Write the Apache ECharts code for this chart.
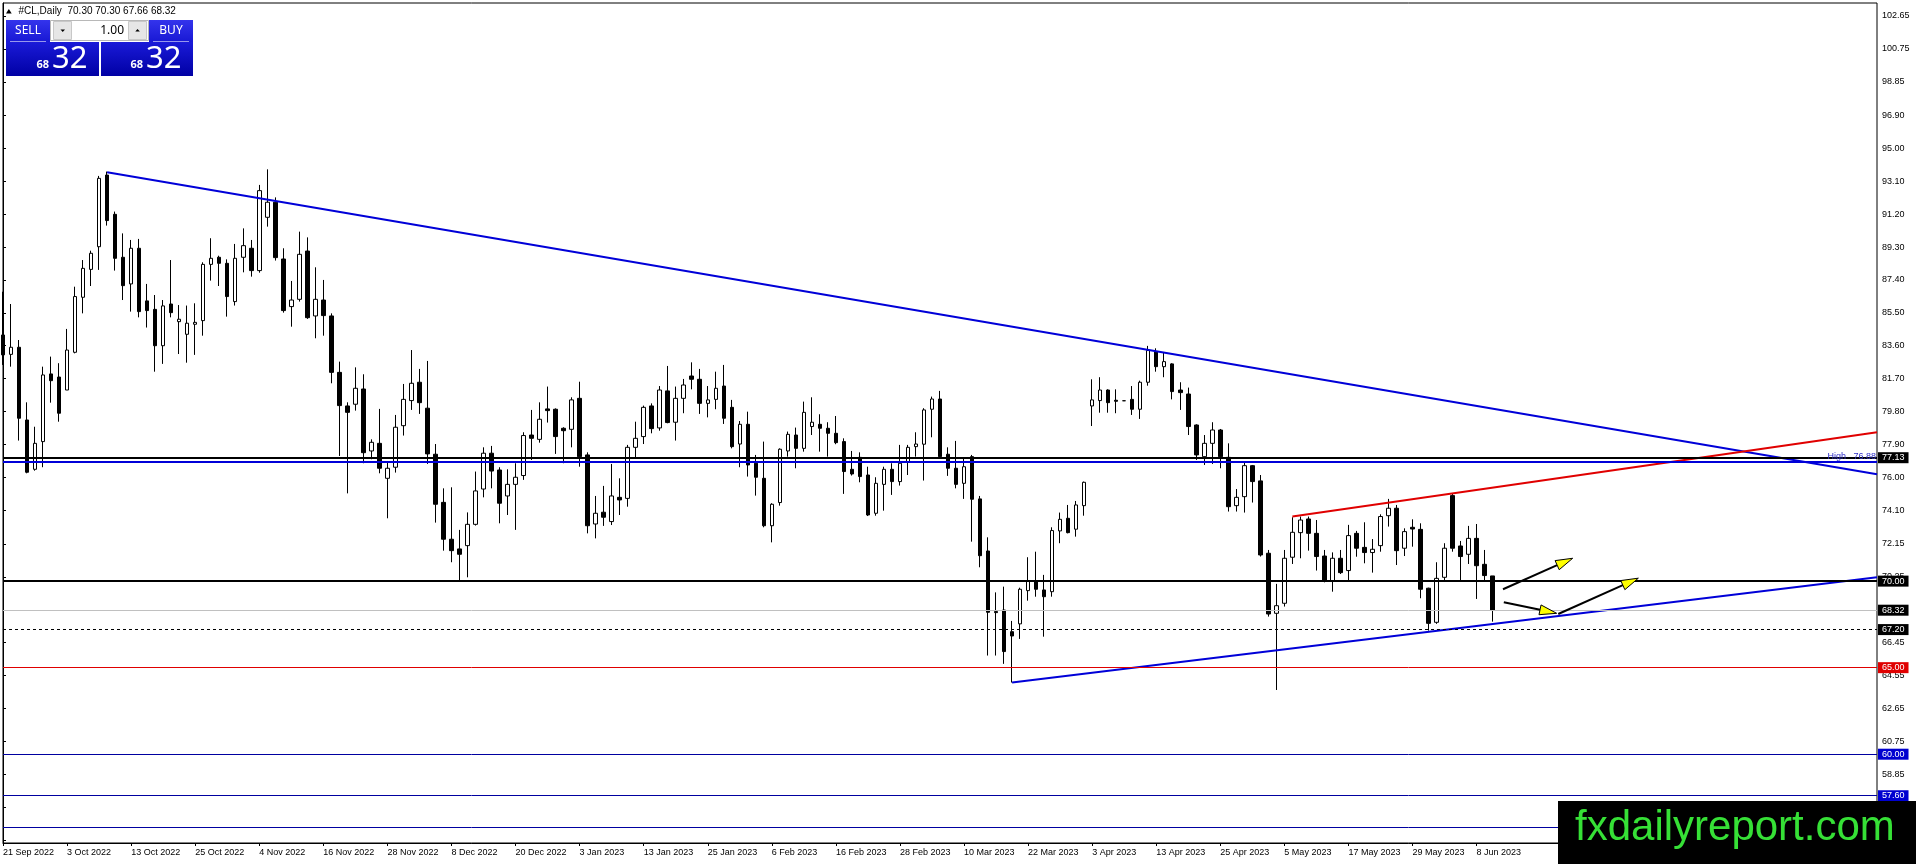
<!DOCTYPE html>
<html>
<head>
<meta charset="utf-8">
<title>#CL,Daily</title>
<script src="https://cdn.jsdelivr.net/npm/echarts@6/dist/echarts.min.js"></script>
<style>
  html, body { margin: 0; padding: 0; background: #fff; }
  #main { width: 1916px; height: 864px; }
</style>
</head>
<body>
<div id="main"></div>
<script>
// daily bars, #CL (crude oil CFD), 21 Sep 2022 .. 12 Jun 2023
var firstDay = '2022-09-21';
var skipDays = ['2022-12-26', '2023-01-02'];   // no bar on these
var totalSlots = 235;                          // bars + empty space on the right

var opens = [
  84.22, 83.10, 83.51, 79.31, 76.46, 78.06, 81.97, 81.79, 81.04, 83.22,
  86.40, 88.01, 89.32, 93.46, 91.19, 88.71, 87.17, 89.23, 86.19, 85.70,
  83.60, 86.01, 84.99, 84.26, 84.84, 85.05, 88.30, 88.71, 88.36, 86.15,
  88.71, 89.23, 87.94, 91.02, 91.89, 88.61, 85.86, 86.28, 89.07, 85.32,
  86.24, 85.32, 82.06, 80.12, 80.22, 81.10, 77.52, 77.96, 75.94, 76.58,
  78.98, 80.43, 81.49, 79.99, 77.33, 74.55, 72.42, 71.86, 72.05, 73.28,
  75.32, 77.39, 76.42, 74.92, 75.59, 76.10, 78.44, 78.19, 79.95, 79.93,
  78.83, 78.77, 80.56, 77.29, 73.30, 73.98, 73.44, 74.84, 74.78, 77.73,
  78.35, 80.12, 78.85, 80.99, 79.18, 80.56, 81.85, 81.66, 80.27, 80.50,
  81.27, 80.04, 77.92, 79.06, 76.81, 75.94, 73.20, 74.54, 77.52, 78.44,
  77.67, 78.93, 79.06, 78.83, 78.54, 78.06, 76.46, 77.15, 76.13, 73.92,
  75.59, 76.46, 75.75, 76.87, 77.77, 77.91, 79.93, 80.52, 77.33, 76.52,
  75.65, 77.19, 74.75, 71.74, 68.24, 68.33, 67.08, 67.53, 69.45, 69.97,
  69.49, 69.39, 72.90, 73.63, 73.00, 74.36, 80.12, 80.43, 81.04, 80.45,
  80.42, 80.50, 79.93, 81.49, 83.26, 82.39, 82.55, 81.04, 80.81, 79.02,
  77.19, 77.96, 78.73, 77.15, 74.36, 74.88, 76.67, 75.79, 71.61, 68.14,
  68.72, 71.38, 72.80, 73.59, 72.76, 71.45, 70.03, 71.32, 70.61, 72.76,
  71.95, 71.65, 72.05, 73.78, 74.21, 71.90, 73.11, 72.99, 69.59, 67.62,
  70.22, 74.94, 72.03, 71.55, 72.47, 70.97, 70.30
];
var highs = [
  86.72, 86.01, 83.93, 80.33, 78.92, 82.39, 82.97, 82.59, 84.57, 87.01,
  88.55, 89.09, 93.41, 93.66, 91.35, 90.09, 89.71, 89.77, 87.17, 86.53,
  86.24, 88.55, 85.95, 85.92, 86.05, 88.42, 89.81, 88.80, 88.59, 89.48,
  90.38, 89.71, 92.89, 93.79, 92.17, 89.23, 87.34, 90.19, 89.86, 88.13,
  87.40, 85.47, 82.68, 80.33, 82.35, 81.95, 78.19, 79.95, 76.90, 79.60,
  81.39, 83.35, 82.26, 82.72, 77.92, 75.36, 75.42, 72.96, 73.97, 76.33,
  77.73, 77.81, 76.58, 76.46, 76.81, 78.60, 79.89, 80.33, 81.24, 79.98,
  78.89, 80.62, 81.52, 77.44, 74.92, 75.50, 76.77, 75.94, 77.87, 79.21,
  80.14, 80.27, 81.27, 82.43, 81.24, 81.68, 82.64, 82.26, 81.27, 82.10,
  82.49, 80.47, 79.25, 79.79, 77.29, 78.06, 74.50, 77.67, 78.64, 78.87,
  80.37, 80.62, 79.64, 79.18, 79.54, 78.25, 77.52, 77.44, 76.61, 76.00,
  76.61, 76.81, 77.87, 77.87, 78.60, 79.99, 80.66, 80.99, 77.73, 78.10,
  77.13, 77.29, 74.92, 72.53, 69.35, 69.68, 67.70, 69.62, 71.38, 71.70,
  70.36, 73.11, 73.96, 74.40, 74.63, 75.75, 81.66, 81.78, 81.08, 81.08,
  80.42, 81.27, 81.58, 83.59, 83.45, 83.22, 82.59, 81.49, 81.18, 79.06,
  78.44, 79.18, 78.79, 77.96, 75.32, 76.90, 76.71, 76.13, 71.80, 69.84,
  71.80, 73.69, 73.73, 73.73, 73.53, 71.80, 71.66, 71.80, 73.25, 72.90,
  73.40, 72.43, 73.86, 74.75, 74.40, 73.05, 73.57, 73.34, 69.62, 71.09,
  72.19, 75.04, 72.32, 73.19, 73.30, 71.80, 70.30
];
var lows = [
  82.49, 82.39, 78.12, 76.23, 76.38, 76.58, 80.31, 79.21, 81.04, 83.16,
  85.47, 87.05, 87.98, 90.54, 87.94, 86.24, 85.57, 85.24, 84.65, 82.10,
  82.55, 85.24, 83.12, 82.62, 83.07, 84.18, 87.36, 87.05, 85.28, 85.92,
  87.84, 87.59, 87.82, 90.48, 88.52, 85.51, 84.70, 86.15, 85.15, 84.03,
  84.18, 81.43, 77.23, 75.07, 79.85, 76.81, 77.04, 76.23, 73.63, 76.27,
  78.41, 79.89, 79.66, 76.77, 73.38, 71.76, 71.09, 70.05, 70.22, 73.21,
  74.84, 75.36, 73.34, 73.82, 72.96, 75.85, 77.00, 78.00, 79.16, 77.35,
  76.81, 77.73, 76.61, 72.76, 72.47, 73.19, 73.24, 73.82, 74.30, 77.10,
  77.92, 78.54, 78.69, 79.12, 78.12, 79.70, 81.08, 79.66, 79.46, 79.93,
  79.08, 77.67, 76.58, 76.04, 74.94, 73.11, 72.24, 74.36, 77.19, 76.52,
  77.48, 78.44, 77.48, 77.19, 77.91, 75.04, 76.10, 75.71, 73.76, 73.78,
  74.07, 74.98, 75.52, 76.13, 77.19, 75.81, 78.31, 77.10, 76.08, 75.36,
  74.75, 72.28, 70.80, 65.70, 65.70, 65.22, 64.14, 66.66, 68.87, 69.10,
  66.79, 69.10, 72.19, 72.76, 72.57, 73.78, 78.96, 79.73, 79.73, 79.70,
  80.42, 79.60, 79.37, 81.29, 82.10, 81.78, 80.50, 79.89, 78.44, 77.00,
  76.71, 76.77, 76.52, 74.02, 74.02, 73.96, 74.54, 71.42, 67.95, 63.71,
  68.53, 70.99, 71.32, 71.76, 70.61, 69.93, 69.39, 70.41, 70.03, 71.41,
  71.03, 70.49, 71.70, 73.15, 70.93, 71.45, 71.99, 69.01, 67.14, 67.53,
  70.03, 71.70, 70.03, 70.99, 68.97, 70.03, 67.66
];
var closes = [
  83.07, 83.51, 79.41, 76.29, 77.96, 81.91, 81.58, 79.70, 83.35, 86.44,
  88.07, 88.94, 93.27, 90.83, 88.65, 87.07, 89.23, 85.57, 85.63, 83.60,
  85.90, 85.51, 85.13, 84.90, 84.95, 88.30, 88.65, 88.36, 86.44, 88.65,
  89.38, 87.94, 92.56, 91.89, 88.69, 85.63, 86.24, 88.88, 85.22, 86.28,
  85.34, 82.06, 80.14, 79.75, 81.14, 77.42, 78.02, 76.52, 76.52, 78.89,
  80.50, 81.43, 80.31, 77.35, 74.44, 72.42, 71.76, 71.55, 73.28, 75.21,
  77.39, 76.36, 74.50, 75.59, 76.00, 78.41, 78.25, 79.35, 79.85, 78.35,
  78.69, 80.47, 77.19, 73.20, 73.92, 73.69, 74.92, 74.69, 77.73, 78.25,
  80.04, 78.81, 81.04, 79.16, 80.56, 81.33, 81.66, 80.27, 80.47, 81.14,
  79.41, 77.77, 79.06, 76.71, 76.00, 73.20, 74.44, 77.62, 78.48, 77.67,
  79.75, 79.18, 78.83, 78.54, 78.00, 76.33, 76.19, 76.04, 73.82, 75.65,
  76.46, 75.75, 76.81, 77.73, 77.92, 79.89, 80.52, 77.19, 76.52, 75.59,
  76.61, 74.73, 71.47, 68.20, 68.18, 65.93, 66.83, 69.53, 70.01, 69.53,
  69.10, 72.92, 73.57, 72.80, 74.40, 75.71, 80.47, 81.04, 80.31, 80.39,
  80.42, 79.93, 81.49, 83.32, 82.39, 82.68, 80.95, 80.89, 78.93, 77.29,
  77.96, 78.73, 77.19, 74.30, 74.84, 76.67, 75.75, 71.51, 68.10, 68.58,
  71.32, 72.82, 73.53, 72.76, 71.42, 70.03, 71.32, 70.49, 72.63, 71.90,
  71.65, 71.84, 73.73, 74.21, 71.76, 72.86, 73.01, 69.53, 67.56, 70.16,
  71.90, 71.90, 71.42, 72.47, 70.89, 70.32, 68.32
];

// right-hand price scale labels
var priceTicks = [102.65, 100.75, 98.85, 96.90, 95.00, 93.10, 91.20, 89.30, 87.40,
  85.50, 83.60, 81.70, 79.80, 77.90, 76.00, 74.10, 72.15, 70.25, 68.30, 66.45,
  64.55, 62.65, 60.75, 58.85, 56.95, 55.05];

// horizontal levels
var level7713 = 77.13;
var levelHigh = 76.88;
var level70 = 70.00;
var levelBid = 68.32;
var level6720 = 67.20;
var level65 = 65.00;
var blueLevels = [60.00, 57.60, 55.78];

// trendlines: [bar index, price]
var downTrend = [[13, 93.62], [234, 76.17]];
var redTrend = [[161, 73.73], [234, 78.60]];
var supportTrend = [[126, 64.14], [234, 70.22]];

// arrows: [fromBar, fromPrice, toBar, toPrice]
var arrows = [
  [187.3, 69.53, 196.0, 71.32],
  [187.4, 68.78, 194.0, 68.14],
  [194.2, 68.10, 204.2, 70.17]
];

var FONT = 'Liberation Sans';
var MONTHS = ['Jan', 'Feb', 'Mar', 'Apr', 'May', 'Jun', 'Jul', 'Aug', 'Sep', 'Oct', 'Nov', 'Dec'];

// trading days (weekdays minus the skipped holidays)
var categories = [];
var day = new Date(firstDay + 'T00:00:00Z');
while (categories.length < opens.length) {
  var wd = day.getUTCDay();
  var iso = day.toISOString().slice(0, 10);
  if (wd !== 0 && wd !== 6 && skipDays.indexOf(iso) < 0) {
    categories.push(day.getUTCDate() + ' ' + MONTHS[day.getUTCMonth()] + ' ' + day.getUTCFullYear());
  }
  day = new Date(day.getTime() + 86400000);
}
var lastBar = categories.length - 1;
for (var k = categories.length; k < totalSlots; k++) categories.push('_' + k);

var candles = [];
for (var i = 0; i < opens.length; i++) {
  candles.push([opens[i], closes[i], lows[i], highs[i]]);
}

var showDate = function (idx) { return idx % 8 === 0 && idx <= lastBar; };

function boxLabel(bg) {
  return {
    show: true, position: 'end', distance: 1,
    formatter: function (p) { return p.value.toFixed(2); },
    color: '#fff', backgroundColor: bg, padding: [2, 4, 0, 4],
    fontSize: 9, fontFamily: FONT, lineHeight: 9
  };
}

var markLines = [
  { yAxis: level7713, lineStyle: { color: '#000', width: 2, type: 'solid' }, label: boxLabel('#000') },
  { yAxis: levelHigh, lineStyle: { color: '#0000d8', width: 2, type: 'solid' },
    label: { show: true, position: 'insideEndTop', distance: 1, formatter: 'High   76.88',
      color: '#3030c8', fontSize: 9, fontFamily: FONT } },
  { yAxis: level70, lineStyle: { color: '#000', width: 2, type: 'solid' }, label: boxLabel('#000') },
  { yAxis: levelBid, lineStyle: { color: '#c0c0c0', width: 1, type: 'solid' }, label: boxLabel('#000') },
  { yAxis: level6720, lineStyle: { color: '#000', width: 1, type: [3, 3] }, label: boxLabel('#000') },
  { yAxis: level65, lineStyle: { color: '#e00000', width: 1, type: 'solid' }, label: boxLabel('#e00000') }
];
blueLevels.forEach(function (v, n) {
  markLines.push({ yAxis: v, lineStyle: { color: '#0000a0', width: 1, type: 'solid' },
    label: n < 2 ? boxLabel('#0000d0') : { show: false } });
});

function trendSeries(pts, color) {
  return {
    type: 'line', xAxisIndex: 1, yAxisIndex: 0, data: pts,
    symbol: 'none', silent: true, z: 4,
    lineStyle: { color: color, width: 2 }
  };
}

var chart = echarts.init(document.getElementById('main'), null, { renderer: 'canvas' });

var option = {
  animation: false,
  backgroundColor: '#fff',
  textStyle: { fontFamily: FONT },
  grid: {
    left: 3, right: 39, top: 3, bottom: 21,
    show: true, borderColor: '#000', borderWidth: 1, backgroundColor: '#fff',
    containLabel: false, outerBoundsMode: 'none'
  },
  xAxis: [{
    type: 'category', data: categories, boundaryGap: false,
    axisLine: { show: true, lineStyle: { color: '#000', width: 1 } },
    axisTick: { show: true, interval: showDate, length: 3, lineStyle: { color: '#000' } },
    axisLabel: {
      interval: showDate, align: 'left', margin: 5, color: '#000',
      fontSize: 9, fontFamily: FONT
    },
    splitLine: { show: false }
  }, {
    type: 'value', min: 0, max: totalSlots - 1, show: false
  }],
  yAxis: {
    type: 'value', position: 'right', min: 54.87, max: 103.40, scale: true,
    axisLine: { show: true, lineStyle: { color: '#000', width: 1 } },
    axisTick: { show: true, length: 3, customValues: priceTicks, lineStyle: { color: '#000' } },
    axisLabel: {
      customValues: priceTicks, margin: 5, color: '#000', fontSize: 9, fontFamily: FONT,
      formatter: function (v) { return v.toFixed(2); }
    },
    splitLine: { show: false }
  },
  series: [{
    type: 'candlestick', data: candles, barWidth: 4, silent: true, z: 3,
    itemStyle: {
      color: '#fff', color0: '#000',
      borderColor: '#000', borderColor0: '#000', borderColorDoji: '#000', borderWidth: 1
    },
    markLine: {
      silent: true, symbol: ['none', 'none'], animation: false, z: 5,
      data: markLines
    }
  },
  trendSeries(downTrend, '#0000d8'),
  trendSeries(redTrend, '#e00000'),
  trendSeries(supportTrend, '#0000d8'),
  {
    type: 'custom', xAxisIndex: 1, yAxisIndex: 0, data: arrows, silent: true, z: 6,
    encode: { x: [0, 2], y: [1, 3] },
    renderItem: function (params, api) {
      var p1 = api.coord([api.value(0), api.value(1)]);
      var p2 = api.coord([api.value(2), api.value(3)]);
      var dx = p2[0] - p1[0], dy = p2[1] - p1[1];
      var len = Math.sqrt(dx * dx + dy * dy);
      var ux = dx / len, uy = dy / len;
      var headLen = 17, headW = 5;
      var bx = p2[0] - ux * headLen, by = p2[1] - uy * headLen;
      return {
        type: 'group',
        children: [{
          type: 'line',
          shape: { x1: p1[0], y1: p1[1], x2: bx, y2: by },
          style: { stroke: '#000', lineWidth: 2 }
        }, {
          type: 'polygon',
          shape: { points: [[p2[0], p2[1]], [bx - uy * headW, by + ux * headW], [bx + uy * headW, by - ux * headW]] },
          style: { fill: '#ffff00', stroke: '#000', lineWidth: 1 }
        }]
      };
    }
  }],
  graphic: [
    // title line
    { type: 'polygon', z: 50, shape: { points: [[6, 13.5], [11.7, 13.5], [8.85, 9]] }, style: { fill: '#000' } },
    { type: 'text', z: 50, x: 18.5, y: 11, style: { text: '#CL,Daily', fill: '#000', font: '10px "Liberation Sans"', verticalAlign: 'middle' } },
    { type: 'text', z: 50, x: 67.5, y: 11, style: { text: '70.30 70.30 67.66 68.32', fill: '#000', font: '10px "Liberation Sans"', verticalAlign: 'middle' } },

    // one-click trading panel
    { type: 'rect', z: 50, shape: { x: 6, y: 42, width: 93, height: 34 },
      style: { fill: new echarts.graphic.LinearGradient(0, 0, 0, 1, [{ offset: 0, color: '#1a1ad8' }, { offset: 1, color: '#0000a4' }]) } },
    { type: 'rect', z: 50, shape: { x: 101, y: 42, width: 92, height: 34 },
      style: { fill: new echarts.graphic.LinearGradient(0, 0, 0, 1, [{ offset: 0, color: '#1a1ad8' }, { offset: 1, color: '#0000a4' }]) } },
    { type: 'rect', z: 50, shape: { x: 6, y: 20, width: 44, height: 22 },
      style: { fill: new echarts.graphic.LinearGradient(0, 0, 0, 1, [{ offset: 0, color: '#3434ec' }, { offset: 1, color: '#1818d4' }]) } },
    { type: 'rect', z: 50, shape: { x: 149, y: 20, width: 44, height: 22 },
      style: { fill: new echarts.graphic.LinearGradient(0, 0, 0, 1, [{ offset: 0, color: '#3434ec' }, { offset: 1, color: '#1818d4' }]) } },
    { type: 'line', z: 51, shape: { x1: 10, y1: 41.5, x2: 46, y2: 41.5 }, style: { stroke: 'rgba(255,255,255,0.55)', lineWidth: 1 } },
    { type: 'line', z: 51, shape: { x1: 153, y1: 41.5, x2: 189, y2: 41.5 }, style: { stroke: 'rgba(255,255,255,0.55)', lineWidth: 1 } },
    { type: 'text', z: 51, x: 28, y: 31, style: { text: 'SELL', fill: '#fff', font: '12px "Noto Sans"', align: 'center', verticalAlign: 'middle' } },
    { type: 'text', z: 51, x: 171, y: 31, style: { text: 'BUY', fill: '#fff', font: '12px "Noto Sans"', align: 'center', verticalAlign: 'middle' } },
    { type: 'rect', z: 50, shape: { x: 50.5, y: 20.5, width: 98, height: 20 }, style: { fill: '#fff', stroke: '#b8b8b8', lineWidth: 1 } },
    { type: 'rect', z: 51, shape: { x: 53.5, y: 21.5, width: 18, height: 18 }, style: { fill: '#e6e6e6', stroke: '#c8c8c8', lineWidth: 1 } },
    { type: 'rect', z: 51, shape: { x: 128.5, y: 21.5, width: 18, height: 18 }, style: { fill: '#e6e6e6', stroke: '#c8c8c8', lineWidth: 1 } },
    { type: 'polygon', z: 52, shape: { points: [[60.5, 29.5], [65, 29.5], [62.75, 32]] }, style: { fill: '#000' } },
    { type: 'polygon', z: 52, shape: { points: [[135.3, 31.5], [139.8, 31.5], [137.55, 29]] }, style: { fill: '#000' } },
    { type: 'text', z: 52, x: 124, y: 31, style: { text: '1.00', fill: '#000', font: '12px "Noto Sans"', align: 'right', verticalAlign: 'middle' } },
    { type: 'text', z: 52, x: 49, y: 65, style: { text: '68', fill: '#fff', font: 'bold 11px "Noto Sans"', align: 'right', verticalAlign: 'middle' } },
    { type: 'text', z: 52, x: 52, y: 59, style: { text: '32', fill: '#fff', font: '31px "Noto Sans"', align: 'left', verticalAlign: 'middle' } },
    { type: 'text', z: 52, x: 143, y: 65, style: { text: '68', fill: '#fff', font: 'bold 11px "Noto Sans"', align: 'right', verticalAlign: 'middle' } },
    { type: 'text', z: 52, x: 146, y: 59, style: { text: '32', fill: '#fff', font: '31px "Noto Sans"', align: 'left', verticalAlign: 'middle' } },

    // watermark
    { type: 'rect', z: 100, shape: { x: 1558, y: 801, width: 358, height: 63 }, style: { fill: '#000' } },
    { type: 'text', z: 101, x: 1575, y: 828, style: { text: 'fxdailyreport.com', fill: '#36e036', font: '42px "Liberation Sans"', align: 'left', verticalAlign: 'middle' } }
  ]
};

chart.setOption(option);
</script>
</body>
</html>
